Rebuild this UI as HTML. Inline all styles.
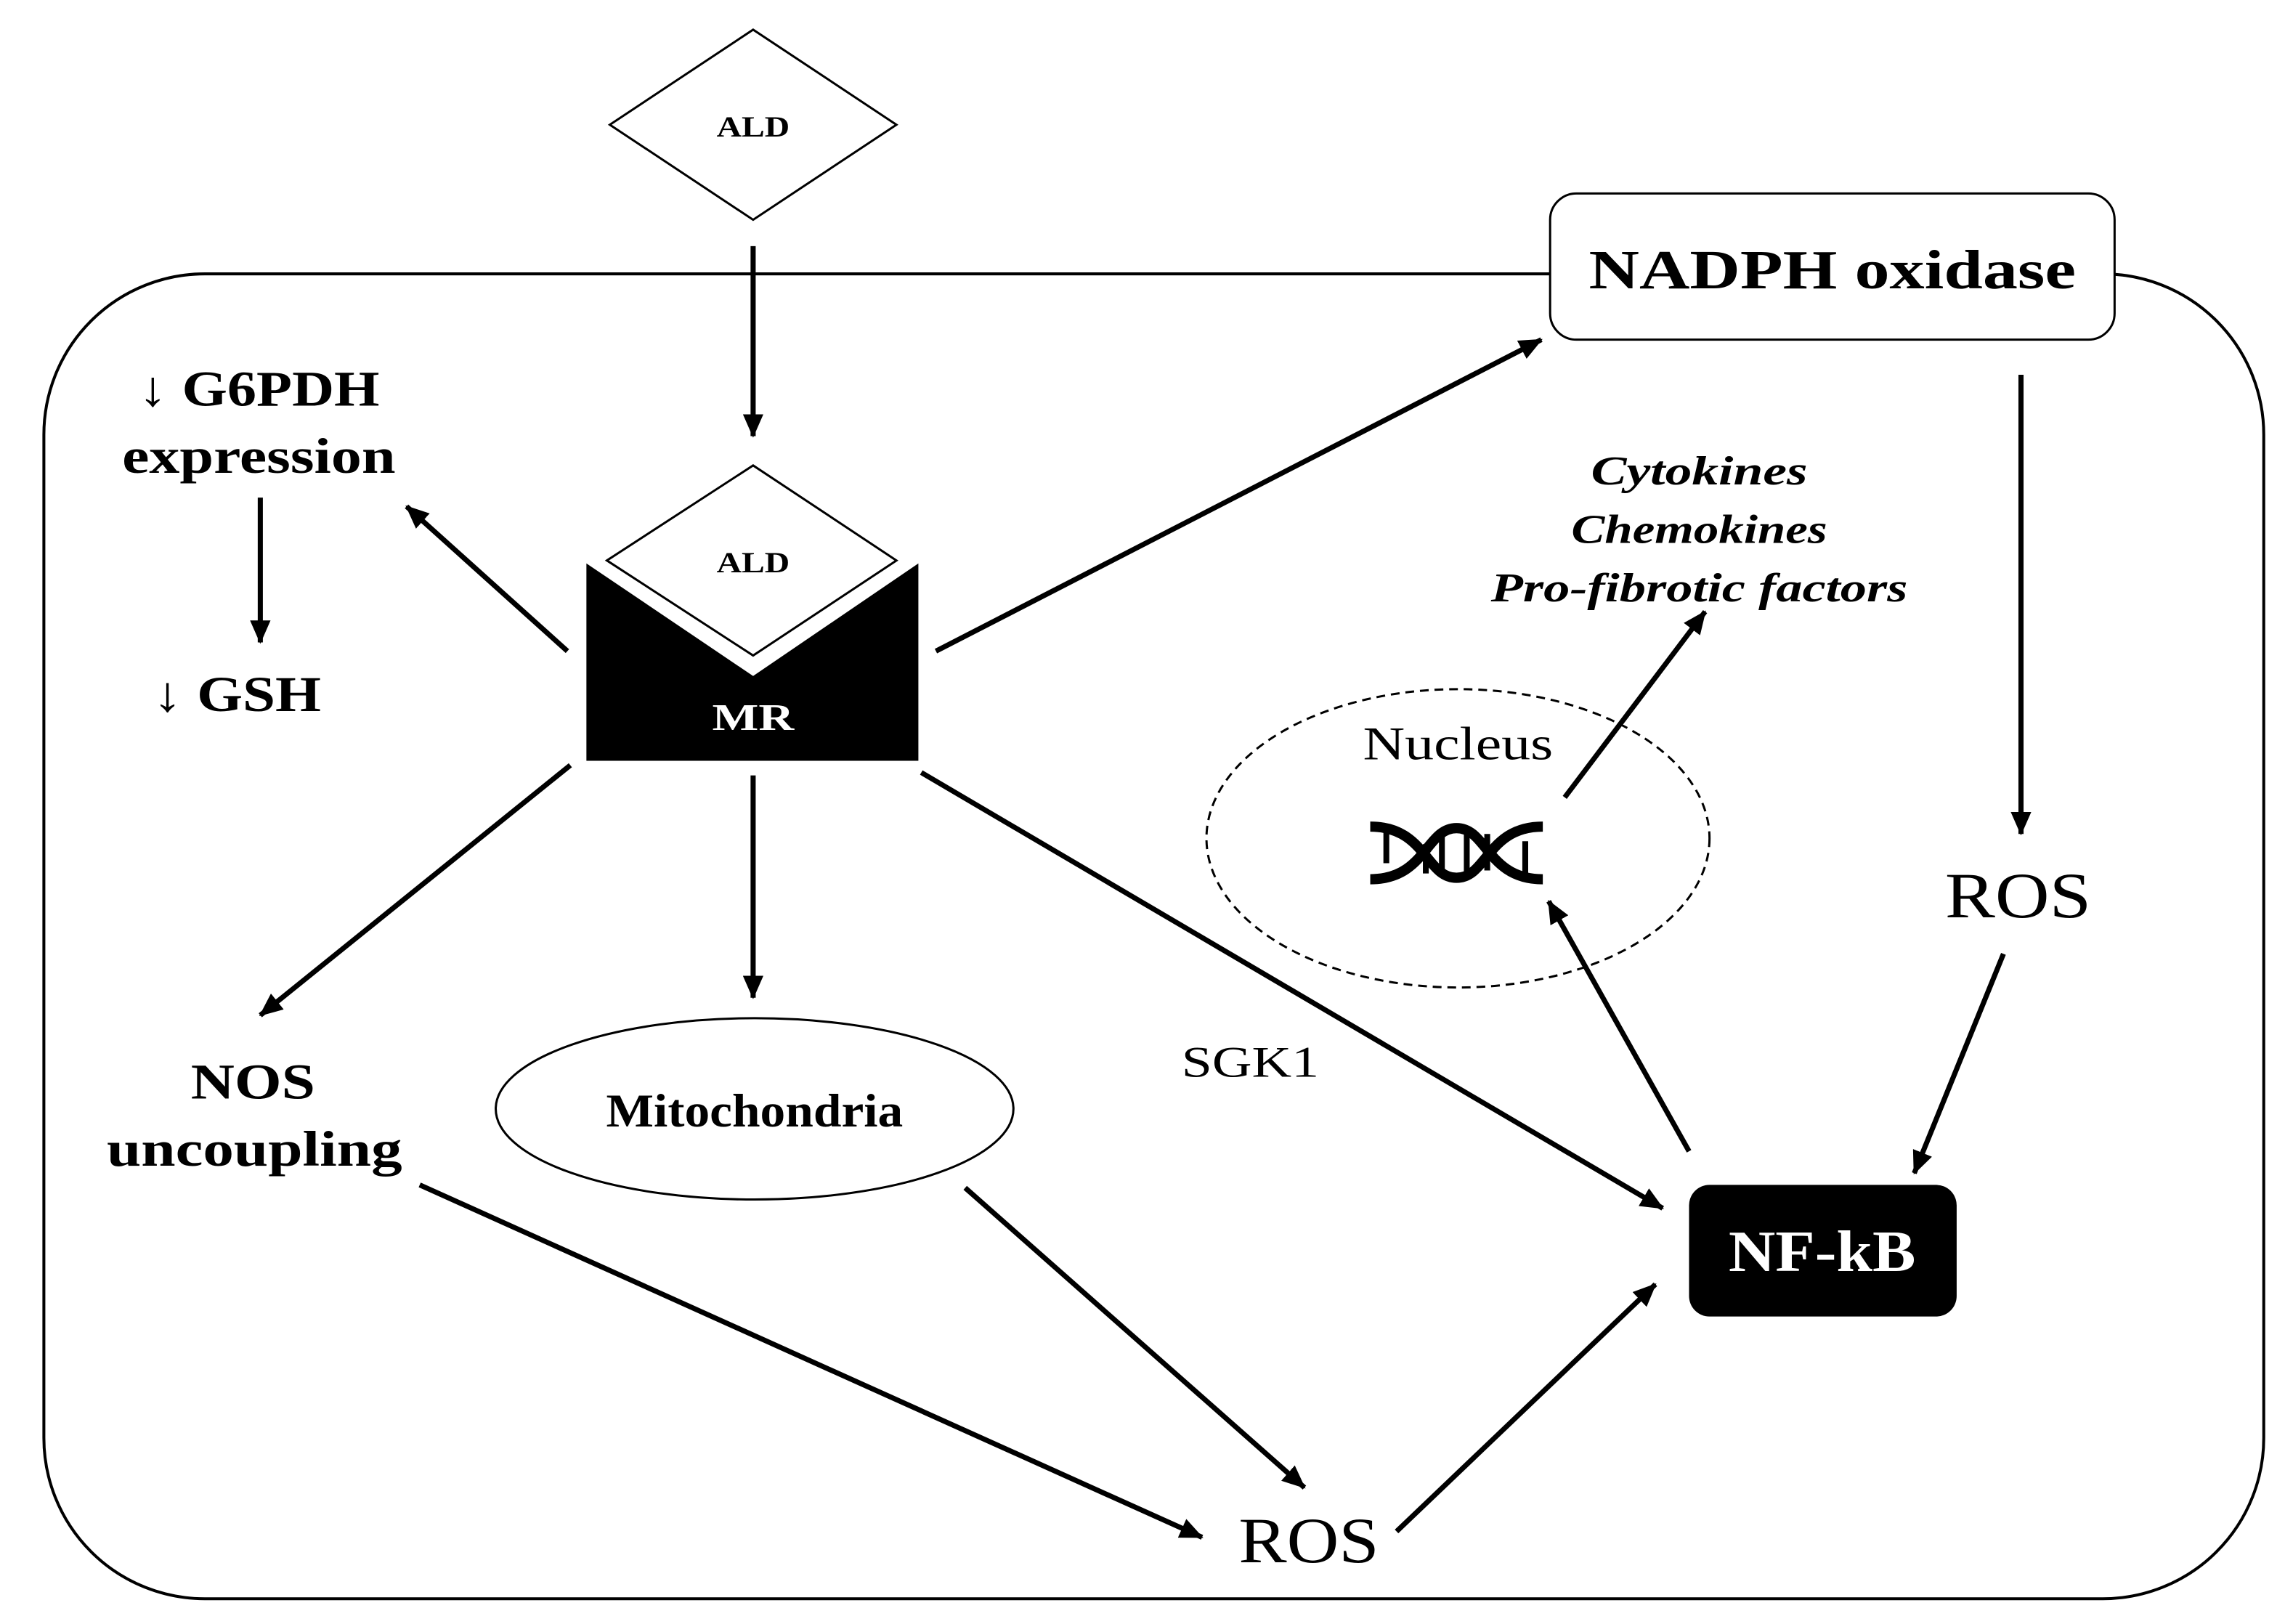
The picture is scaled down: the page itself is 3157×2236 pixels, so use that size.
<!DOCTYPE html>
<html><head><meta charset="utf-8"><style>
html,body{margin:0;padding:0;background:#fff;}
svg{display:block;}
text{font-family:"Liberation Serif",serif;fill:#000;}
</style></head><body>
<svg width="3157" height="2236" viewBox="0 0 1568 1110" xmlns="http://www.w3.org/2000/svg">
<defs>
<marker id="a" markerWidth="16" markerHeight="14" refX="15" refY="7" orient="auto" markerUnits="userSpaceOnUse" viewBox="0 0 16 14">
<path d="M0,0 L16,7 L0,14 z" fill="#000"/></marker>
</defs>
<rect x="30" y="187" width="1518" height="906" rx="110" ry="110" fill="none" stroke="#000" stroke-width="2"/>
<polygon points="417,85 515,20 613,85 515,150" fill="#fff" stroke="#000" stroke-width="1.5"/>
<text x="515" y="93" font-size="20" font-weight="bold" text-anchor="middle" textLength="50" lengthAdjust="spacingAndGlyphs">ALD</text>
<g stroke="#000" stroke-width="3.5" fill="none" marker-end="url(#a)">
<line x1="515" y1="168" x2="515" y2="298"/>
<line x1="640" y1="445" x2="1054" y2="232"/>
<line x1="388" y1="445" x2="278" y2="346"/>
<line x1="178" y1="340" x2="178" y2="439"/>
<line x1="390" y1="523" x2="178" y2="694"/>
<line x1="515" y1="530" x2="515" y2="682"/>
<line x1="630" y1="528" x2="1137" y2="826"/>
<line x1="1382" y1="256" x2="1382" y2="570"/>
<line x1="1370" y1="652" x2="1309" y2="802"/>
<line x1="1155" y1="787" x2="1059" y2="616"/>
<line x1="1070" y1="545" x2="1166" y2="418"/>
<line x1="287" y1="810" x2="822" y2="1051"/>
<line x1="660" y1="812" x2="892" y2="1017"/>
<line x1="955" y1="1047" x2="1132" y2="878"/>
</g>
<rect x="1060" y="132" width="386" height="100" rx="18" fill="#fff" stroke="#000" stroke-width="1.5"/>
<text x="1253" y="197" font-size="38" font-weight="bold" text-anchor="middle" textLength="333" lengthAdjust="spacingAndGlyphs">NADPH oxidase</text>
<polygon points="401,385 515,462 628,385 628,520 401,520" fill="#000"/>
<polygon points="415,383 515,318 613,383 515,448" fill="#fff" stroke="#000" stroke-width="1.5"/>
<text x="515" y="391" font-size="20" font-weight="bold" text-anchor="middle" textLength="50" lengthAdjust="spacingAndGlyphs">ALD</text>
<text x="515" y="499" font-size="26" font-weight="bold" text-anchor="middle" style="fill:#fff" textLength="56" lengthAdjust="spacingAndGlyphs">MR</text>
<text x="177" y="277" font-size="34" font-weight="bold" text-anchor="middle" textLength="165" lengthAdjust="spacingAndGlyphs">↓ G6PDH</text>
<text x="177" y="323" font-size="34" font-weight="bold" text-anchor="middle" textLength="187" lengthAdjust="spacingAndGlyphs">expression</text>
<text x="162" y="486" font-size="34" font-weight="bold" text-anchor="middle" textLength="115" lengthAdjust="spacingAndGlyphs">↓ GSH</text>
<text x="173" y="751" font-size="34" font-weight="bold" text-anchor="middle" textLength="85" lengthAdjust="spacingAndGlyphs">NOS</text>
<text x="174" y="797" font-size="34" font-weight="bold" text-anchor="middle" textLength="202" lengthAdjust="spacingAndGlyphs">uncoupling</text>
<ellipse cx="516" cy="758" rx="177" ry="62" fill="none" stroke="#000" stroke-width="1.5"/>
<text x="516" y="770" font-size="32" font-weight="bold" text-anchor="middle" textLength="203" lengthAdjust="spacingAndGlyphs">Mitochondria</text>
<text x="855" y="736" font-size="30" text-anchor="middle" textLength="94" lengthAdjust="spacingAndGlyphs">SGK1</text>
<text x="1380" y="627" font-size="44" text-anchor="middle" textLength="100" lengthAdjust="spacingAndGlyphs">ROS</text>
<text x="895" y="1068" font-size="44" text-anchor="middle" textLength="96" lengthAdjust="spacingAndGlyphs">ROS</text>
<rect x="1155" y="810" width="183" height="90" rx="14" fill="#000"/>
<text x="1246" y="869" font-size="40" font-weight="bold" text-anchor="middle" style="fill:#fff" textLength="128" lengthAdjust="spacingAndGlyphs">NF-kB</text>
<ellipse cx="997" cy="573" rx="172" ry="102" fill="none" stroke="#000" stroke-width="1.5" stroke-dasharray="6,4"/>
<text x="997" y="519" font-size="32" text-anchor="middle" textLength="130" lengthAdjust="spacingAndGlyphs">Nucleus</text>
<g font-size="28" font-weight="bold" font-style="italic" text-anchor="middle">
<text x="1162" y="331" textLength="148" lengthAdjust="spacingAndGlyphs">Cytokines</text>
<text x="1162" y="371" textLength="175" lengthAdjust="spacingAndGlyphs">Chemokines</text>
<text x="1162" y="411" textLength="285" lengthAdjust="spacingAndGlyphs">Pro-fibrotic factors</text>
</g>
<g fill="none" stroke="#000" stroke-width="7">
<path d="M937,565 C975,565 975,600 996,600 C1017,600 1017,565 1055,565"/>
<path d="M937,601 C975,601 975,566 996,566 C1017,566 1017,601 1055,601"/>
</g>
<g stroke="#000" stroke-width="4">
<line x1="948" y1="567" x2="948" y2="590"/>
<line x1="975" y1="577" x2="975" y2="597"/>
<line x1="986" y1="570" x2="986" y2="597"/>
<line x1="1003" y1="567" x2="1003" y2="597"/>
<line x1="1017" y1="570" x2="1017" y2="595"/>
<line x1="1043" y1="575" x2="1043" y2="598"/>
</g>
</svg>
</body></html>
